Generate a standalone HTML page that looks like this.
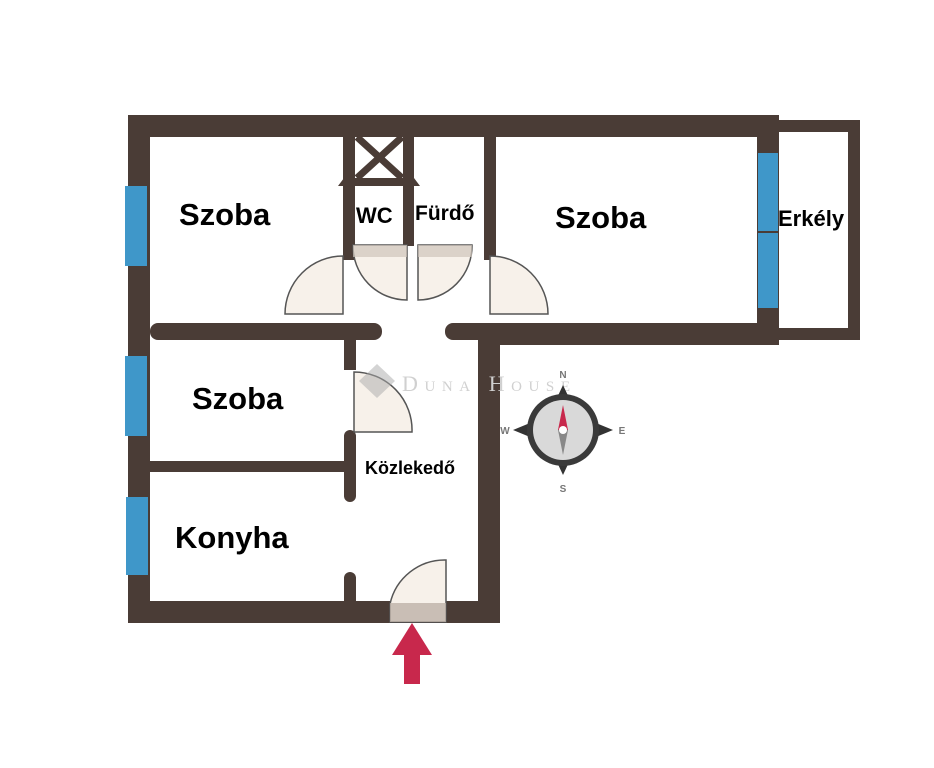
<!DOCTYPE html>
<html><head><meta charset="utf-8"><style>
html,body{margin:0;padding:0;background:#fff;}
svg{display:block}
text{font-family:"Liberation Sans",Arial,sans-serif;font-weight:bold;fill:#000}
</style></head><body>
<svg width="934" height="768" viewBox="0 0 934 768">
<rect width="934" height="768" fill="#fff"/>
<g fill="#4a3c36">
<rect x="129" y="115" width="650" height="22"/>
<rect x="128" y="115" width="22" height="508"/>
<rect x="128" y="601" width="372" height="22"/>
<rect x="478" y="330" width="22" height="293"/>
<rect x="757" y="115" width="22" height="230"/>
<rect x="778" y="120" width="82" height="12"/>
<rect x="848" y="120" width="12" height="220"/>
<rect x="778" y="328" width="82" height="12"/>
<rect x="150" y="323" width="232" height="17" rx="8"/>
<rect x="445" y="323" width="334" height="17" rx="8"/>
<rect x="478" y="323" width="301" height="22"/>
<rect x="343" y="136" width="12" height="124"/>
<rect x="403" y="136" width="11" height="110"/>
<rect x="484" y="136" width="12" height="124"/>
<rect x="344" y="330" width="12" height="40"/>
<rect x="344" y="430" width="12" height="72" rx="6"/>
<rect x="344" y="572" width="12" height="40" rx="6"/>
<rect x="150" y="461" width="200" height="11"/>
<polygon points="338,186 420,186 414,178 344,178"/>
</g>
<g stroke="#4a3c36" stroke-width="7">
<line x1="357" y1="137" x2="402" y2="178"/>
<line x1="402" y1="137" x2="357" y2="178"/>
</g>
<g fill="#3f97c9">
<rect x="125" y="186" width="22" height="80"/>
<rect x="125" y="356" width="22" height="80"/>
<rect x="126" y="497" width="22" height="78"/>
<rect x="758" y="153" width="20" height="78"/>
<rect x="758" y="233" width="20" height="75"/>
</g>
<g fill="#f7f1ea" stroke="#555" stroke-width="1.5">
<path d="M343,256 L343,314 L285,314 A58,58 0 0 1 343,256 Z"/>
<path d="M353,245 L407,245 L407,300 A54,54 0 0 1 353,245 Z"/>
<path d="M418,245 L472,245 A54,54 0 0 1 418,300 Z"/>
<path d="M490,256 L490,314 L548,314 A58,58 0 0 0 490,256 Z"/>
<path d="M354,372 L354,432 L412,432 A58,58 0 0 0 354,372 Z"/>
<path d="M390,622 L390,604 A56,56 0 0 1 446,560 L446,622 Z"/>
</g>
<rect x="353" y="245" width="54" height="12" fill="#cfc5bb" opacity=".7"/>
<rect x="418" y="245" width="54" height="12" fill="#cfc5bb" opacity=".7"/>
<rect x="390" y="603" width="56" height="19" fill="#bdb2a8" opacity=".8"/>
<polygon points="412,623 432,655 420,655 420,684 404,684 404,655 392,655" fill="#c8284c"/>
<polygon points="377,364 395,381 377,398 359,381" fill="#aaa" opacity=".5"/>
<text x="402" y="391" font-size="22" textLength="168" style="font-family:'Liberation Serif',serif;font-weight:normal;fill:#d0d0d0;font-variant:small-caps">Duna House</text>
<g transform="translate(563,430)">
<polygon points="0,-45 7,-30 -7,-30" fill="#333"/>
<polygon points="0,45 7,30 -7,30" fill="#333"/>
<polygon points="-50,0 -33,7 -33,-7" fill="#333"/>
<polygon points="50,0 33,7 33,-7" fill="#333"/>
<circle r="36" fill="#3a3a3a"/>
<circle r="30" fill="#d9d9d9"/>
<polygon points="0,-25 5,0 -5,0" fill="#c8284c"/>
<polygon points="0,25 5,0 -5,0" fill="#888"/>
<circle r="4" fill="#fff"/>
<text x="0" y="-52" font-size="10" text-anchor="middle" style="fill:#777">N</text>
<text x="0" y="62" font-size="10" text-anchor="middle" style="fill:#777">S</text>
<text x="-58" y="4" font-size="10" text-anchor="middle" style="fill:#777">W</text>
<text x="59" y="4" font-size="10" text-anchor="middle" style="fill:#777">E</text>
</g>
<text x="179" y="225" font-size="31">Szoba</text>
<text x="555" y="228" font-size="31">Szoba</text>
<text x="192" y="409" font-size="31">Szoba</text>
<text x="175" y="548" font-size="31">Konyha</text>
<text x="356" y="223" font-size="22">WC</text>
<text x="415" y="220" font-size="21">Fürdő</text>
<text x="778" y="226" font-size="22">Erkély</text>
<text x="365" y="474" font-size="18">Közlekedő</text>
</svg>
</body></html>
